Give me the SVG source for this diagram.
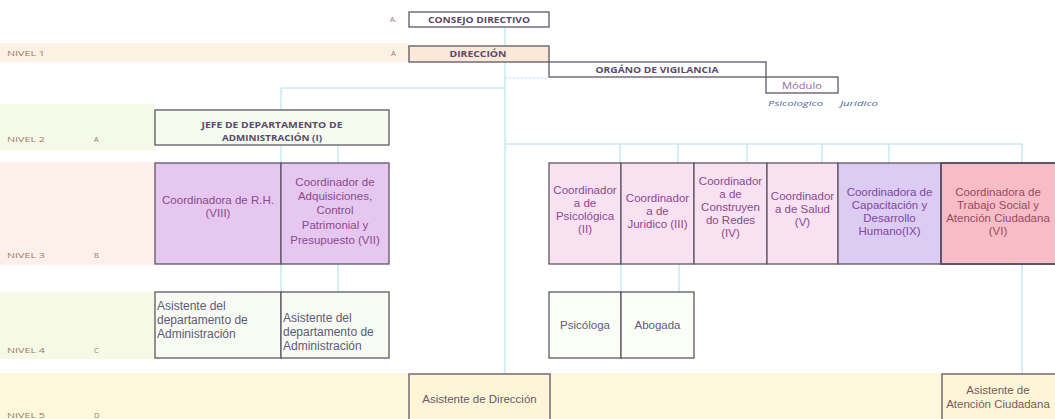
<svg xmlns="http://www.w3.org/2000/svg" width="1055" height="419" viewBox="0 0 1055 419">
<style>
.hdr{font-family:"Open Sans","Liberation Sans",sans-serif;font-weight:700;font-size:8.5px;fill:#5a4a6a;text-anchor:middle}
.lvl{font-family:"Open Sans","Liberation Sans",sans-serif;font-size:7.5px;fill:#a07868}
.box{stroke:#5e5666;stroke-width:1.3}
.conn{stroke:#a8dfea;stroke-width:1;fill:none}
.t{font-family:"Liberation Sans",Arial,sans-serif;font-size:11.5px;text-anchor:middle}
.tl{font-family:"Liberation Sans",Arial,sans-serif;font-size:12px}
.purple{fill:#8a4a8e}
.grey{fill:#5e5a7a}
.it{font-family:"Open Sans","Liberation Sans",sans-serif;font-style:italic;font-size:8px;fill:#4a6a9a}
</style>
<rect width="1055" height="419" fill="#ffffff"/>
<!-- level bands -->
<rect x="0" y="43" width="409" height="19" fill="#fdf1e3"/>
<rect x="0" y="104" width="155" height="46" fill="#f5f9e8"/>
<rect x="0" y="162" width="155" height="103" fill="#fdefe9"/>
<rect x="0" y="292" width="155" height="67" fill="#f6f9e6"/>
<rect x="0" y="373" width="1055" height="46" fill="#fdf8dc"/>
<text class="lvl" x="7" y="56" textLength="38" lengthAdjust="spacingAndGlyphs">NIVEL 1</text>
<text class="lvl" x="7" y="142" textLength="38" lengthAdjust="spacingAndGlyphs">NIVEL 2</text>
<text class="lvl" x="94" y="142">A</text>
<text class="lvl" x="7" y="258" textLength="38" lengthAdjust="spacingAndGlyphs">NIVEL 3</text>
<text class="lvl" x="94" y="258">B</text>
<text class="lvl" x="7" y="353" textLength="38" lengthAdjust="spacingAndGlyphs">NIVEL 4</text>
<text class="lvl" x="94" y="353">C</text>
<text class="lvl" x="7" y="418" textLength="38" lengthAdjust="spacingAndGlyphs">NIVEL 5</text>
<text class="lvl" x="94" y="418">D</text>
<text class="lvl" x="390" y="22">A.</text>
<text class="lvl" x="391" y="56">A</text>

<g id="connectors">
<line class="conn" x1="505" y1="27" x2="505" y2="374"/>
<line class="conn" x1="505" y1="78" x2="549" y2="78" stroke-dasharray="2 2"/>
<line class="conn" x1="281" y1="88" x2="505" y2="88"/>
<line class="conn" x1="281" y1="88" x2="281" y2="110"/>
<line class="conn" x1="281" y1="145" x2="281" y2="163"/>
<line class="conn" x1="338" y1="145" x2="338" y2="163"/>
<line class="conn" x1="281" y1="263" x2="281" y2="292"/>
<line class="conn" x1="338" y1="263" x2="338" y2="292"/>
<line class="conn" x1="505" y1="144" x2="1022" y2="144"/>
<line class="conn" x1="620" y1="144" x2="620" y2="163"/>
<line class="conn" x1="678" y1="144" x2="678" y2="163"/>
<line class="conn" x1="747" y1="144" x2="747" y2="163"/>
<line class="conn" x1="822" y1="144" x2="822" y2="163"/>
<line class="conn" x1="889" y1="144" x2="889" y2="163"/>
<line class="conn" x1="1022" y1="144" x2="1022" y2="163"/>
<line class="conn" x1="621" y1="263" x2="621" y2="292"/>
<line class="conn" x1="679" y1="263" x2="679" y2="292"/>
<line class="conn" x1="1022" y1="263" x2="1022" y2="374"/>
</g>

<g id="consejo">
<rect class="box" x="409" y="12" width="140" height="15" fill="#ffffff"/>
<text class="hdr" x="479" y="22.5" textLength="102" lengthAdjust="spacingAndGlyphs">CONSEJO DIRECTIVO</text>
</g>
<g id="direccion">
<rect class="box" x="409" y="46" width="140" height="16" fill="#fbe8d6"/>
<text class="hdr" x="478" y="56.5" textLength="57" lengthAdjust="spacingAndGlyphs">DIRECCIÓN</text>
</g>
<g id="organo">
<rect class="box" x="549" y="62" width="217" height="15" fill="#ffffff"/>
<text class="hdr" x="657" y="72.5" textLength="123" lengthAdjust="spacingAndGlyphs">ORGÁNO DE VIGILANCIA</text>
</g>
<g id="modulo">
<rect class="box" x="766" y="77" width="72" height="16" fill="#ffffff"/>
<text x="802" y="89" text-anchor="middle" font-family="Open Sans, Liberation Sans, sans-serif" font-size="8.5" fill="#9a6a9a" textLength="40" lengthAdjust="spacingAndGlyphs">Módulo</text>
<text class="it" x="768" y="106" textLength="55" lengthAdjust="spacingAndGlyphs">Psicologico</text>
<text class="it" x="840" y="106" textLength="38" lengthAdjust="spacingAndGlyphs">Juridico</text>
</g>
<g id="jefe">
<rect class="box" x="155" y="110" width="234" height="35" fill="#f5fbef"/>
<text class="hdr" x="272" y="128" textLength="141" lengthAdjust="spacingAndGlyphs">JEFE DE DEPARTAMENTO DE</text>
<text class="hdr" x="272" y="141" textLength="100" lengthAdjust="spacingAndGlyphs">ADMINISTRACIÓN (I)</text>
</g>

<g id="coord-rh">
<rect class="box" x="155" y="163" width="126" height="101" fill="#e6c7ef"/>
<text class="t purple" x="218" y="204" font-size="10.5">Coordinadora de R.H.</text>
<text class="t purple" x="218" y="217" font-size="10.5">(VIII)</text>
</g>
<g id="coord-adq">
<rect class="box" x="281" y="163" width="108" height="101" fill="#e6c7ef"/>
<text class="t purple" x="335" y="186">Coordinador de</text>
<text class="t purple" x="335" y="200">Adquisiciones,</text>
<text class="t purple" x="335" y="214">Control</text>
<text class="t purple" x="335" y="229">Patrimonial y</text>
<text class="t purple" x="335" y="244">Presupuesto (VII)</text>
</g>
<g id="coord-psic">
<rect class="box" x="549" y="163" width="72" height="101" fill="#f8e1f1"/>
<text class="t purple" x="585" y="193.5" font-size="11">Coordinador</text>
<text class="t purple" x="585" y="206.5" font-size="11">a de</text>
<text class="t purple" x="585" y="219.5" font-size="11">Psicológica</text>
<text class="t purple" x="585" y="232.5" font-size="11">(II)</text>
</g>
<g id="coord-jur">
<rect class="box" x="621" y="163" width="73" height="101" fill="#f8e1f1"/>
<text class="t purple" x="657.5" y="202" font-size="11">Coordinador</text>
<text class="t purple" x="657.5" y="215" font-size="11">a de</text>
<text class="t purple" x="657.5" y="228" font-size="11">Juridico (III)</text>
</g>
<g id="coord-redes">
<rect class="box" x="694" y="163" width="73" height="101" fill="#f8e1f1"/>
<text class="t purple" x="730.5" y="185" font-size="11">Coordinador</text>
<text class="t purple" x="730.5" y="198" font-size="11">a de</text>
<text class="t purple" x="730.5" y="211" font-size="11">Construyen</text>
<text class="t purple" x="730.5" y="224" font-size="11">do Redes</text>
<text class="t purple" x="730.5" y="237" font-size="11">(IV)</text>
</g>
<g id="coord-salud">
<rect class="box" x="767" y="163" width="71" height="101" fill="#f8e1f1"/>
<text class="t purple" x="802.5" y="200" font-size="11">Coordinador</text>
<text class="t purple" x="802.5" y="213" font-size="11">a de Salud</text>
<text class="t purple" x="802.5" y="226" font-size="11">(V)</text>
</g>
<g id="coord-cap">
<rect class="box" x="838" y="163" width="103" height="101" fill="#dccbf3"/>
<text class="t" fill="#8048a0" x="889.5" y="195.5" font-size="11">Coordinadora de</text>
<text class="t" fill="#8048a0" x="889.5" y="208.5" font-size="11">Capacitación y</text>
<text class="t" fill="#8048a0" x="889.5" y="221.5" font-size="11">Desarrollo</text>
<text class="t" fill="#8048a0" x="889.5" y="234.5" font-size="11">Humano(IX)</text>
</g>
<g id="coord-ts">
<rect x="941" y="163" width="116" height="101" fill="#f7bcc6" stroke="#5e5666" stroke-width="2"/>
<text class="t" fill="#9b4a62" x="998" y="195.5" font-size="11">Coordinadora de</text>
<text class="t" fill="#9b4a62" x="998" y="208.5" font-size="11">Trabajo Social y</text>
<text class="t" fill="#9b4a62" x="998" y="221.5" font-size="11">Atención Ciudadana</text>
<text class="t" fill="#9b4a62" x="998" y="234.5" font-size="11">(VI)</text>
</g>

<g id="asist-adm-1">
<rect class="box" x="155" y="292" width="126" height="66" fill="#f7fbf1"/>
<text class="tl grey" x="157" y="310">Asistente del</text>
<text class="tl grey" x="157" y="324">departamento de</text>
<text class="tl grey" x="157" y="338">Administración</text>
</g>
<g id="asist-adm-2">
<rect class="box" x="281" y="292" width="108" height="66" fill="#f7fbf1"/>
<text class="tl grey" x="283" y="322">Asistente del</text>
<text class="tl grey" x="283" y="336">departamento de</text>
<text class="tl grey" x="283" y="350">Administración</text>
</g>
<g id="psicologa">
<rect class="box" x="549" y="292" width="72" height="66" fill="#fbfdf7"/>
<text class="t grey" x="585" y="329">Psicóloga</text>
</g>
<g id="abogada">
<rect class="box" x="621" y="292" width="73" height="66" fill="#fbfdf7"/>
<text class="t grey" x="657.5" y="329">Abogada</text>
</g>
<g id="asist-dir">
<rect class="box" x="409" y="374" width="141" height="50" fill="#fdf5d6"/>
<text class="t" fill="#6a5a6a" x="479.5" y="403">Asistente de Dirección</text>
</g>
<g id="asist-atc">
<rect class="box" x="942" y="374" width="116" height="50" fill="#fdf5d6"/>
<text class="t" fill="#7a5a5a" x="998" y="394">Asistente de</text>
<text class="t" fill="#7a5a5a" x="998" y="408">Atención Ciudadana</text>
</g>
</svg>
